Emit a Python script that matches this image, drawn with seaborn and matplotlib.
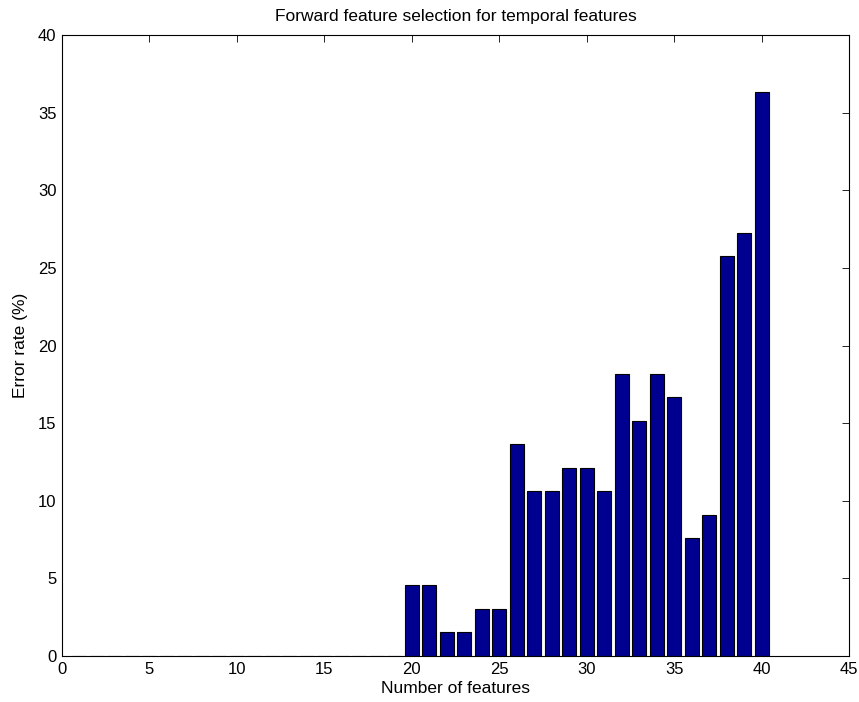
import matplotlib
matplotlib.use("Agg")
import matplotlib.pyplot as plt
import seaborn as sns
import pandas as pd

num_features = list(range(1, 41))
error_rate = [0.0] * 19 + [
    4.55, 4.55, 1.52, 1.52, 3.03, 3.03, 13.64, 10.61, 10.61, 12.12,
    12.12, 10.61, 18.18, 15.15, 18.18, 16.67, 7.58, 9.09, 25.76, 27.27,
    36.36]
x_ticks = list(range(0, 46, 5))
y_ticks = list(range(0, 41, 5))

df = pd.DataFrame({"n": num_features, "err": error_rate})

sns.set_style("white")
plt.rcParams['font.family'] = ['Liberation Sans', 'DejaVu Sans']

fig = plt.figure(figsize=(8.59, 7.02), dpi=100)
ax = fig.add_axes([62/859, 46/702, (849-62)/859, (656-35)/702])

sns.barplot(data=df, x="n", y="err", native_scale=True, width=0.8,
            color="#000090", saturation=1, edgecolor="black", linewidth=0.8,
            ax=ax)

ax.set_xlim(0, 45)
ax.set_ylim(0, 40)
ax.set_xticks(x_ticks)
ax.set_yticks(y_ticks)
ax.tick_params(direction="in", length=5, width=0.6, top=True, right=True,
               labelsize=12, color="black", labelcolor="black", pad=4)
for s in ax.spines.values():
    s.set_visible(True)
    s.set_color("black")
    s.set_linewidth(0.8)
ax.set_xlabel("Number of features", fontsize=12.5, labelpad=3, color="black")
ax.set_ylabel("Error rate (%)", fontsize=12.5, labelpad=7, color="black")
ax.set_title("Forward feature selection for temporal features", fontsize=12.5,
             pad=10, color="black")

fig.savefig("out.png", dpi=100)
